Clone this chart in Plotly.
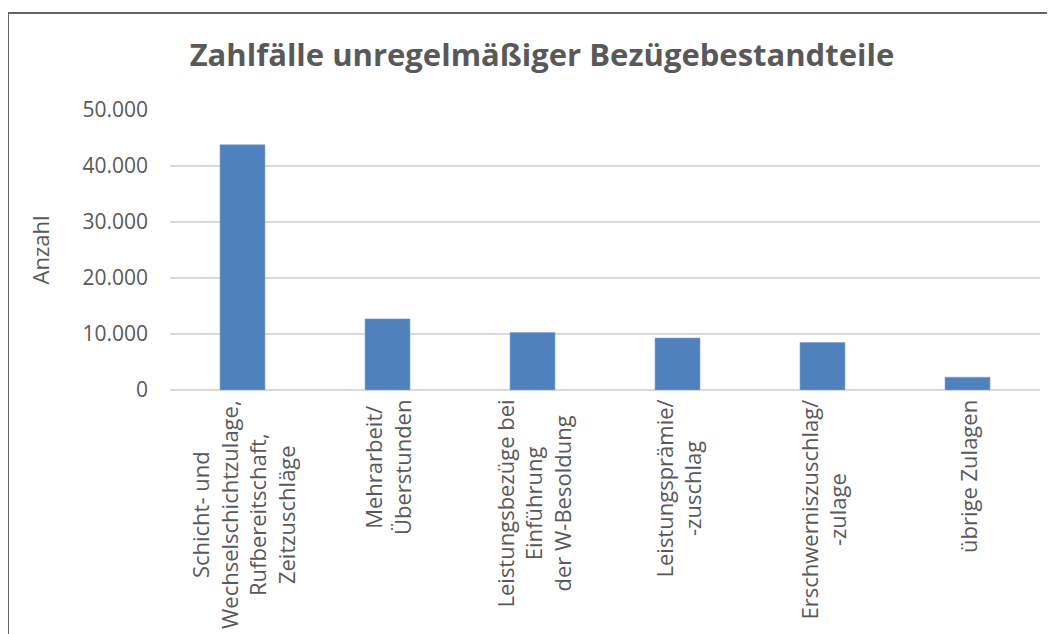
import plotly.graph_objects as go

categories = [
    "Schicht- und<br>Wechselschichtzulage,<br>Rufbereitschaft,<br>Zeitzuschläge",
    "Mehrarbeit/<br>Überstunden",
    "Leistungsbezüge bei<br>Einführung<br>der W-Besoldung",
    "Leistungsprämie/<br>-zuschlag",
    "Erschwerniszuschlag/<br>-zulage",
    "übrige Zulagen",
]
values = [43800, 12700, 10250, 9280, 8490, 2280]
y_ticks = [0, 10000, 20000, 30000, 40000, 50000]

title_text = "Zahlfälle unregelmäßiger Bezügebestandteile"
y_title = "Anzahl"

FONT = "Open Sans"
GREY = "#595959"

fig = go.Figure()
fig.add_trace(go.Bar(
    x=list(range(len(categories))),
    y=values,
    marker=dict(color="#4f81bd", line=dict(color="#7fa3d0", width=0.6)),
    width=0.31,
    hoverinfo="y",
))

for i, cat in enumerate(categories):
    fig.add_annotation(
        x=i, y=0, xref="x", yref="y",
        text=cat, textangle=-90, align="center",
        xanchor="center", yanchor="top", yshift=-8,
        showarrow=False,
        font=dict(family=FONT, size=22, color=GREY),
    )

# chart frame
fig.add_shape(type="rect", xref="paper", yref="paper",
              x0=-0.1862, x1=1.06, y0=-0.95, y1=1.3464,
              line=dict(color="#646464", width=2), fillcolor="rgba(0,0,0,0)",
              layer="below")

fig.update_layout(
    width=1047, height=626,
    margin=dict(l=162, r=15, t=102, b=244),
    paper_bgcolor="white", plot_bgcolor="white",
    separators=",.",
    showlegend=False,
    title=dict(text="<b>" + title_text + "</b>", x=0.51, xanchor="center",
               y=1 - 47 / 626, yanchor="middle",
               font=dict(family=FONT, size=31, color=GREY)),
    xaxis=dict(range=[-0.5, len(categories) - 0.5], showticklabels=False,
               showgrid=False, zeroline=False, showline=False, fixedrange=True),
    yaxis=dict(range=[0, 50000], tickvals=y_ticks, tickformat=",d",
               showgrid=True, gridcolor="#d9d9d9", gridwidth=1.5,
               zeroline=True, zerolinecolor="#d9d9d9", zerolinewidth=2,
               showline=False, ticklabelstandoff=21,
               tickfont=dict(family=FONT, size=21, color=GREY),
               title=dict(text=y_title, standoff=26,
                          font=dict(family=FONT, size=22, color=GREY))),
    font=dict(family=FONT, color=GREY),
)

fig.write_html("out.html")
